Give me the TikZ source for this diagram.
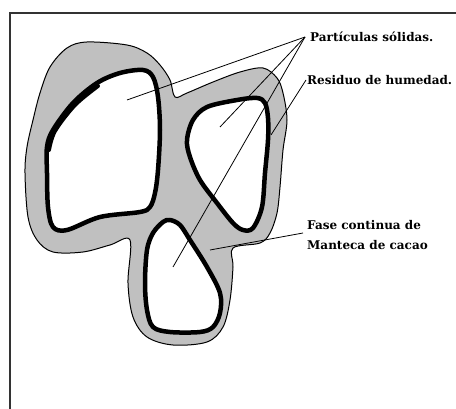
\documentclass[tikz,border=0pt]{standalone}
\usepackage{fontspec}
\setmainfont{DejaVu Serif}
\definecolor{butter}{RGB}{192,192,192}
\begin{document}
\begin{tikzpicture}[x=1pt,y=-1pt,
  frame/.style={draw=black!80,line width=1.2pt},
  phase/.style={fill=butter,draw=black,line width=1pt},
  particle/.style={fill=white,draw=black,line width=4.5pt,line join=round},
  leader/.style={draw=black,line width=0.8pt},
  label/.style={anchor=base west,inner sep=0pt,font=\bfseries\fontsize{12}{14}\selectfont}]
\useasboundingbox (0,0) rectangle (456,409);
\fill[white] (0,0) rectangle (456,409);
% open frame: top and left sides
\draw[frame] (456,13) -- (10,13) -- (10,409);

% continuous phase of cocoa butter
\path[phase] plot[smooth cycle,tension=0.55] coordinates {
  (50,67) (67,48) (87,42) (127,45) (147,53) (160,65) (170,80) (175,97)
  (187,93) (213,82) (240,72) (263,68) (277,78) (283,93) (287,120)
  (283,150) (280,187) (277,213) (270,233) (260,243) (233,248)
  (233,267) (230,300) (223,327) (207,342) (173,345) (147,337)
  (133,317) (128,283) (130,240)
  (110,245) (83,252) (53,252) (37,240) (28,217) (25,173) (27,147)
  (33,120) (40,93)};

% solid particles with moisture film
\path[particle] plot[smooth cycle,tension=0.55] coordinates {
  (47,147) (53,130) (73,103) (97,83) (120,73) (143,70) (153,77)
  (158,97) (160,130) (158,170) (155,193) (150,207) (140,212)
  (100,217) (67,230) (53,227) (48,207) (47,173)};
\draw[black,line width=4pt,line cap=round] plot[smooth,tension=0.55] coordinates {
  (49,150) (55,131) (75,105) (98,86)};

\path[particle] plot[smooth cycle,tension=0.55] coordinates {
  (187,140) (193,120) (207,107) (237,100) (257,98) (265,103)
  (268,118) (268,140) (265,173) (262,207) (253,228) (243,230)
  (233,223) (217,203) (200,180) (190,157)};

\path[particle] plot[smooth cycle,tension=0.55] coordinates {
  (170,220) (180,225) (190,240) (207,267) (220,293) (220,313)
  (213,327) (200,332) (170,332) (153,327) (147,310) (145,283)
  (147,250) (153,233) (163,222)};

% labels
\node[label] (solid) at (310,42) {Partículas sólidas.};
\node[label] (moist) at (307,85) {Residuo de humedad.};
\node[label] (fat) at (307,230) {Fase continua de};
\node[label] (fat2) at (307,250) {Manteca de cacao};

% leader lines
\coordinate (sp) at (305,37);
\coordinate (mp) at (306,80);
\coordinate (fp) at (303,233);
\coordinate (s1) at (127,100);
\coordinate (s2) at (220,127);
\coordinate (s3) at (173,267);
\coordinate (m1) at (271,135);
\coordinate (f1) at (210,250);
\draw[leader] (sp) -- (s1);
\draw[leader] (sp) -- (s2);
\draw[leader] (sp) -- (s3);
\draw[leader] (mp) -- (m1);
\draw[leader] (fp) -- (f1);
\end{tikzpicture}
\end{document}
